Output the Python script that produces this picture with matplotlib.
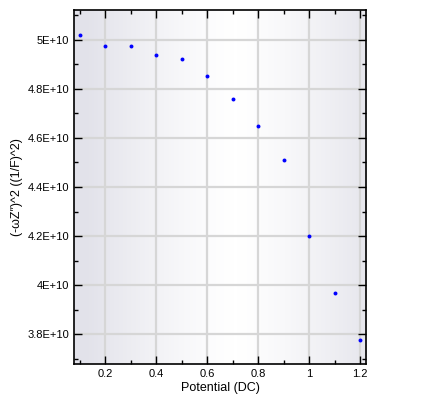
import numpy as np
import matplotlib
matplotlib.use("Agg")
import matplotlib.pyplot as plt
from matplotlib.ticker import FuncFormatter, MultipleLocator
from matplotlib.colors import LinearSegmentedColormap

plt.rcParams['font.family'] = ['Liberation Sans', 'DejaVu Sans']

# data
potential = [0.1, 0.2, 0.3, 0.4, 0.5, 0.6, 0.7, 0.8, 0.9, 1.0, 1.1, 1.2]
wz2 = [5.020e10, 4.976e10, 4.976e10, 4.939e10, 4.922e10, 4.853e10,
       4.759e10, 4.649e10, 4.510e10, 4.201e10, 3.969e10, 3.777e10]

fig = plt.figure(figsize=(4.40, 4.04), dpi=100)
ax = fig.add_axes([74 / 440, 1 - 364 / 404, 292 / 440, 354 / 404])

# horizontal gradient background (darker at both edges)
t = np.linspace(0, 1, 300)
shade = 1 - 0.11 * (np.abs(t - 0.55) / 0.5).clip(0, 1) ** 1.3
cmap = LinearSegmentedColormap.from_list('bg', [(0.89, 0.89, 0.92), (1, 1, 1)])
ax.imshow(shade[None, :], aspect='auto', cmap=cmap, vmin=0.89, vmax=1.0,
          extent=[0, 1, 0, 1], transform=ax.transAxes, zorder=0)

ax.scatter(potential, wz2, s=8, color='#0000ff', zorder=3, linewidths=0)

ax.set_xlim(0.0784, 1.2235)
ax.set_ylim(3.6776e10, 5.1224e10)
ax.xaxis.set_major_locator(MultipleLocator(0.2))
ax.xaxis.set_minor_locator(MultipleLocator(0.1))
ax.yaxis.set_major_locator(MultipleLocator(0.2e10))
ax.yaxis.set_minor_locator(MultipleLocator(0.1e10))
ax.xaxis.set_major_formatter(FuncFormatter(lambda v, p: f"{v:g}"))
ax.yaxis.set_major_formatter(FuncFormatter(lambda v, p: f"{v / 1e10:g}E+10"))

ax.grid(True, which='major', color='#d6d6d6', linewidth=1.6, zorder=1)
ax.set_axisbelow(True)
ax.tick_params(which='both', direction='in', top=True, right=True,
               labelsize=8, width=1)
ax.tick_params(which='major', length=6)
ax.tick_params(which='minor', length=3)
for s in ax.spines.values():
    s.set_linewidth(1.2)

ax.set_xlabel('Potential (DC)', fontsize=9, labelpad=2)
ax.set_ylabel("(-\u03c9Z\u2033)^2 ((1/F)^2)", fontsize=9, labelpad=3)

fig.savefig('out.png', dpi=100)
